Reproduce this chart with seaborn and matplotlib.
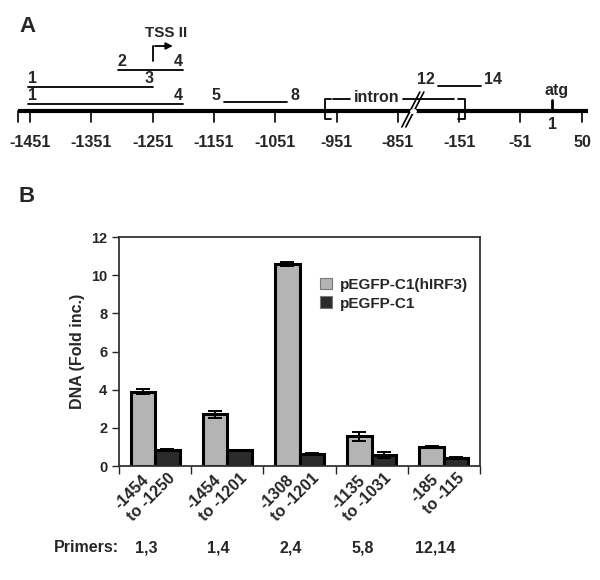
# -*- coding: utf-8 -*-
"""
ChIP of the IRF3 promoter region: primer map (A) and fold enrichment per amplicon (B)
"""
import numpy as np
import pandas as pd
import seaborn as sns
import matplotlib.pyplot as plt
from matplotlib import transforms

sns.set_style("white")
plt.rcParams['font.family'] = ['Liberation Sans', 'DejaVu Sans']
plt.rcParams['font.weight'] = 'bold'

#%% Data
region_start = [-1454, -1454, -1308, -1135, -185]
region_end = [-1250, -1201, -1201, -1031, -115]
primers = ["1,3", "1,4", "2,4", "5,8", "12,14"]
constructs = ["pEGFP-C1(hIRF3)", "pEGFP-C1"]
fold_irf3 = [3.9, 2.7, 10.6, 1.55, 1.02]
err_irf3 = [0.15, 0.2, 0.1, 0.25, 0.04]
fold_ctrl = [0.82, 0.82, 0.62, 0.57, 0.42]
err_ctrl = [0.05, 0.0, 0.05, 0.16, 0.04]

# map of panel A
map_ticks = [-1451, -1351, -1251, -1151, -1051, -951, -851, -151, -51, 50]
map_ends = [-1471, 59]
tss_site = -1251
atg_site = 1
intron = (-970, -141)


def gpos(g):
    # broken axis: 100 bp per unit, gap between -851 and -151
    return (g + 1451) / 100 if g <= -851 else 7 + (g + 151) / 100


fig = plt.figure(figsize=(6, 5.8), dpi=100)

#%% Panel A : primer map (y in pixels from the top)
axa = fig.add_axes([0, 1 - 155 / 580, 1, 155 / 580])
axa.set_xlim(-30 / 61.3, 570 / 61.3)
axa.set_ylim(155, 0)
axa.axis("off")
u = 1 / 61.3  # one pixel in map units

axa.plot([gpos(map_ends[0]), gpos(map_ends[1])], [111, 111], color="black", lw=3, solid_capstyle="butt")
for t in [map_ends[0]] + map_ticks:
    axa.plot([gpos(t), gpos(t)], [111, 122], color="black", lw=1.2)
for t in map_ticks:
    axa.text(gpos(t), 143, str(t), ha="center", va="center", fontsize=11.5, fontweight="bold")

# amplicons
rows = [87, 104, 70, 102, 86]
side = [False, False, False, True, True]
for s, e, p, y, sd in zip(region_start, region_end, primers, rows, side):
    a, b = p.split(",")
    axa.plot([gpos(s), gpos(e)], [y, y], color="black", lw=1.3)
    if sd:
        axa.text(gpos(s) - 3 * u, y + 1, a, ha="right", va="bottom", fontsize=11.5, fontweight="bold")
        axa.text(gpos(e) + 3 * u, y + 1, b, ha="left", va="bottom", fontsize=11.5, fontweight="bold")
    else:
        axa.text(gpos(s), y - 1, a, ha="left", va="bottom", fontsize=11.5, fontweight="bold")
        axa.text(gpos(e), y - 1, b, ha="right", va="bottom", fontsize=11.5, fontweight="bold")

# TSS II arrow
xt = gpos(tss_site)
axa.plot([xt, xt], [61, 46], color="black", lw=1.3)
axa.annotate("", xy=(xt + 23 * u, 46), xytext=(xt - 0.5 * u, 46),
             arrowprops=dict(arrowstyle="-|>", color="black", lw=1.3, mutation_scale=10))
axa.text(xt + 14 * u, 33, "TSS II", ha="center", va="center", fontsize=11, fontweight="bold")

# atg
xa = gpos(atg_site)
axa.plot([xa, xa], [100, 111], color="black", lw=2)
axa.text(xa + 4 * u, 91, "atg", ha="center", va="center", fontsize=11.5, fontweight="bold")
axa.text(xa, 125, "1", ha="center", va="center", fontsize=11.5, fontweight="bold")

# intron bracket with break
x0, x1 = gpos(intron[0]), gpos(intron[1])
axa.plot([x0 + 6 * u, x0, x0, x0 + 6 * u], [99, 99, 119, 119], color="black", lw=1.3)
axa.plot([x1 - 7 * u, x1, x1, x1 - 7 * u], [99, 99, 119, 119], color="black", lw=1.3)
axa.plot([x0 + 8 * u, x0 + 25 * u], [99, 99], color="black", lw=1.3)
axa.text(x0 + 52 * u, 98, "intron", ha="center", va="center", fontsize=11.5, fontweight="bold")
axa.plot([x0 + 78 * u, x1 - 11 * u], [99, 99], color="black", lw=1.3)
xb = x0 + 88 * u
for dx in (-2, 2):
    axa.plot([xb + (dx - 9) * u, xb + (dx + 9) * u], [127, 92], color="black", lw=1.2)
axa.plot([xb - 1 * u, xb + 1 * u], [111, 111], color="white", lw=3.5)

#%% Panel B : fold enrichment
labels = [f"{s}\nto {e}" for s, e in zip(region_start, region_end)]
df = pd.DataFrame({
    "region": labels * 2,
    "construct": np.repeat(constructs, len(labels)),
    "fold": fold_irf3 + fold_ctrl,
})

axb = fig.add_axes([119 / 600, 1 - 466 / 580, 361 / 600, 229 / 580])
sns.barplot(data=df, x="region", y="fold", hue="construct", palette=["#b4b4b4", "#2b2b2b"],
            width=0.68, edgecolor="black", linewidth=2.2, errorbar=None, ax=axb)
for cont, err in zip(axb.containers, [err_irf3, err_ctrl]):
    xs = [p.get_x() + p.get_width() / 2 for p in cont]
    hs = [p.get_height() for p in cont]
    axb.errorbar(xs, hs, yerr=err, fmt="none", ecolor="black", elinewidth=1.4, capsize=5, capthick=1.4)

axb.set_ylim(0, 12)
axb.set_xlim(-0.5, len(labels) - 0.5)
axb.set_yticks(range(0, 13, 2))
axb.set_xticks(np.arange(-0.5, len(labels)), minor=True)
axb.tick_params(axis="x", which="major", length=0, pad=4)
axb.tick_params(axis="x", which="minor", length=6, width=1, direction="out", bottom=True)
axb.tick_params(axis="y", length=5, width=1, direction="out", left=True, labelsize=10.5)
for sp in axb.spines.values():
    sp.set_visible(True)
    sp.set_color("#333333")
    sp.set_linewidth(1.3)

axb.set_xlabel("")
axb.set_ylabel("DNA (Fold inc.)", fontsize=11.5, fontweight="bold", labelpad=4)
axb.set_xticks(range(len(labels)))
axb.set_xticklabels(labels, rotation=45, ha="right", va="top", rotation_mode="anchor",
                    multialignment="left", fontsize=11.5, fontweight="bold")
shift = transforms.ScaledTranslation(0, 13 / 100, fig.dpi_scale_trans)
for lab in axb.get_xticklabels():
    lab.set_transform(lab.get_transform() + shift)
for lab in axb.get_yticklabels():
    lab.set_fontweight("bold")

leg = axb.legend(loc="upper left", bbox_to_anchor=(312 / 600, 1 - 270 / 580),
                 bbox_transform=fig.transFigure, frameon=False,
                 prop={"size": 11, "weight": "bold"},
                 handlelength=0.8, handleheight=0.8, handletextpad=0.5, labelspacing=0.3,
                 borderpad=0)
for h in leg.legend_handles:
    h.set_linewidth(0.8)
    h.set_edgecolor("#777777")

# primer row under the bars
trans = transforms.blended_transform_factory(axb.transData, fig.transFigure)
fig.text(86 / 600, 1 - 548 / 580, "Primers:", ha="center", va="center", fontsize=11.5, fontweight="bold")
for i, p in enumerate(primers):
    axb.text(i - 0.12, 1 - 548 / 580, p, transform=trans, ha="center", va="center",
             fontsize=11.5, fontweight="bold")

fig.text(19 / 600, 1 - 27 / 580, "A", fontsize=16, fontweight="bold", va="center")
fig.text(19 / 600, 1 - 197 / 580, "B", fontsize=16, fontweight="bold", va="center")

plt.savefig("out.png", dpi=100)
